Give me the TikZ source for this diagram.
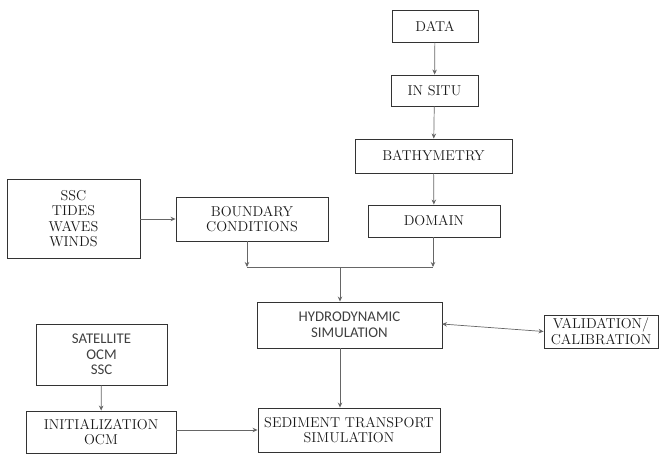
\documentclass[tikz,border=0pt]{standalone}
\usepackage{fontspec}
\newfontfamily\calfont{Carlito}
\usetikzlibrary{arrows.meta}
\begin{document}
\begin{tikzpicture}[x=1pt,y=-1pt,
  box/.style={draw=black!80,line width=0.9pt,inner sep=0pt,align=center,text=black!90,font=\rmfamily\fontsize{14.3}{15.5}\selectfont},
  sbox/.style={box,text=black!75,font=\calfont\fontsize{14.8}{15.5}\selectfont},
  conn/.style={draw=black!60,line width=0.7pt,-{Stealth[length=5pt,width=4.5pt]}},
  plain/.style={draw=black!60,line width=0.7pt}]
\useasboundingbox (0,0) rectangle (662,454);
\node[box,minimum width=86pt,minimum height=32pt] (data) at (435,26) {DATA};
\node[box,minimum width=87pt,minimum height=31pt] (insitu) at (434.5,90.5) {IN SITU};
\node[box,minimum width=157pt,minimum height=34pt] (bathy) at (433.5,156) {BATHYMETRY};
\node[box,minimum width=132pt,minimum height=32pt] (domain) at (434,221) {DOMAIN};
\node[box,minimum width=133pt,minimum height=79pt] (forcing) at (73.5,218.5) {SSC\\TIDES\\WAVES\\WINDS};
\node[box,minimum width=152pt,minimum height=44pt] (bc) at (252,219) {BOUNDARY\\CONDITIONS};
\node[sbox,minimum width=185pt,minimum height=46pt] (hydro) at (349.5,325) {HYDRODYNAMIC\\SIMULATION};
\node[box,minimum width=114pt,minimum height=33pt] (valid) at (601,331.5) {VALIDATION/\\CALIBRATION};
\node[sbox,minimum width=131pt,minimum height=61pt] (sat) at (101.5,354.5) {SATELLITE\\OCM\\SSC};
\node[box,minimum width=150pt,minimum height=42pt] (init) at (101,432) {INITIALIZATION\\OCM};
\node[box,minimum width=182pt,minimum height=44pt] (sed) at (349,430) {SEDIMENT TRANSPORT\\SIMULATION};
\coordinate (j1) at (247,267);
\coordinate (j2) at (433,267);
\coordinate (j3) at (340,267);
\coordinate (h1) at (442,324);
\coordinate (i1) at (176,430);
\draw[conn] (data) -- (insitu);
\draw[conn] (insitu) -- (bathy);
\draw[conn] (bathy) -- (domain);
\draw[conn] (forcing.east |- bc) -- (bc.west);
\draw[conn] (bc.south -| j1) -- (j1);
\draw[conn] (domain.south -| j2) -- (j2);
\draw[plain] (j1) -- (j2);
\draw[conn] (j3) -- (hydro.north -| j3);
\draw[conn,{Stealth[length=5pt,width=4.5pt]}-{Stealth[length=5pt,width=4.5pt]}] (h1) -- (valid.west);
\draw[conn] (hydro.south -| j3) -- (sed.north -| j3);
\draw[conn] (sat) -- (init);
\draw[conn] (i1) -- (sed.west |- i1);
\end{tikzpicture}
\end{document}
